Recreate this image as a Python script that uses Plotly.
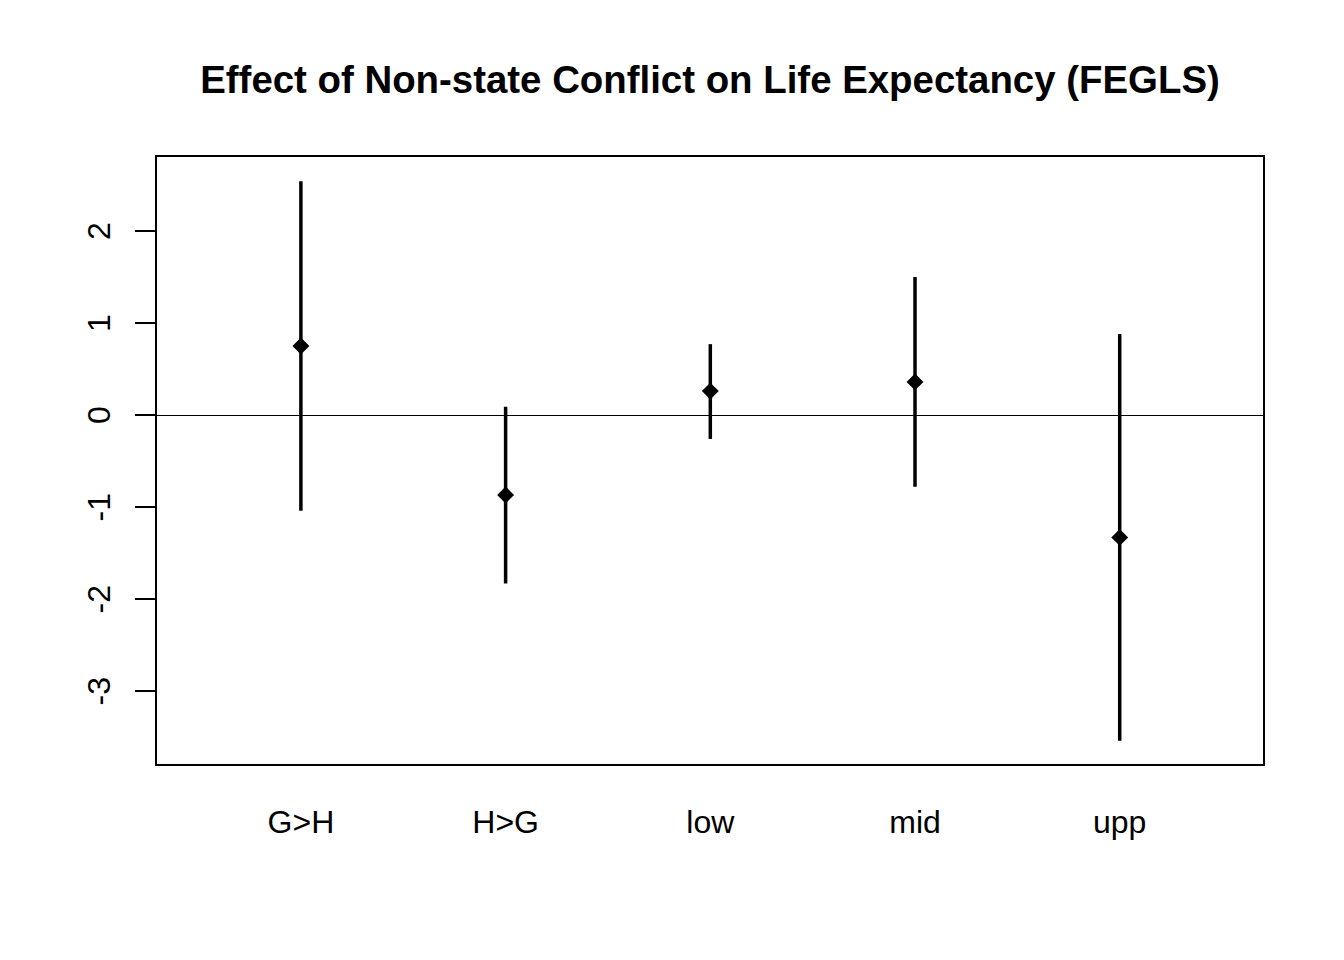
import plotly.graph_objects as go

# categorias e estimativas
groups = ['G>H', 'H>G', 'low', 'mid', 'upp']
estimate = [0.75, -0.87, 0.26, 0.36, -1.33]
upper = [2.54, 0.09, 0.77, 1.50, 0.88]
lower = [-1.04, -1.83, -0.26, -0.78, -3.54]

y_ticks = [-3, -2, -1, 0, 1, 2]
y_labels = ['-3', '-2', '-1', '0', '1', '2']

err_plus = [u - e for u, e in zip(upper, estimate)]
err_minus = [e - l for e, l in zip(estimate, lower)]

fig = go.Figure(go.Scatter(
    x=groups, y=estimate, mode='markers',
    marker=dict(symbol='diamond', size=13, color='black'),
    error_y=dict(type='data', symmetric=False, array=err_plus,
                 arrayminus=err_minus, width=0, thickness=3.5, color='black'),
    showlegend=False))

# a pagina tem ~8px de margem no body, entao compenso nas margens
fig.update_layout(
    width=1344, height=960,
    paper_bgcolor='white', plot_bgcolor='white',
    margin=dict(l=149, r=89, t=149, b=204),
    font=dict(family='Liberation Sans', size=32, color='black'),
    title=dict(text='<b>Effect of Non-state Conflict on Life Expectancy (FEGLS)</b>',
               x=(710 - 8) / 1344, xanchor='center', xref='container',
               y=1 - 72 / 960, yanchor='middle', font=dict(size=38.4)),
)

fig.update_xaxes(
    range=[-0.703, 4.70], showgrid=False, zeroline=False,
    showline=True, mirror=True, linecolor='black', linewidth=1.5,
    ticks='', ticklabelstandoff=29, tickfont=dict(size=32))

fig.update_yaxes(
    range=[-3.793, 2.804], showgrid=False,
    zeroline=True, zerolinecolor='black', zerolinewidth=1,
    showline=True, mirror=True, linecolor='black', linewidth=1.5,
    tickvals=y_ticks, ticktext=y_labels, ticks='outside', ticklen=20, tickwidth=1.5,
    tickcolor='black', tickangle=-90, ticklabelstandoff=12, ticklabelshift=5,
    tickfont=dict(size=32))

fig.write_html('out.html')
